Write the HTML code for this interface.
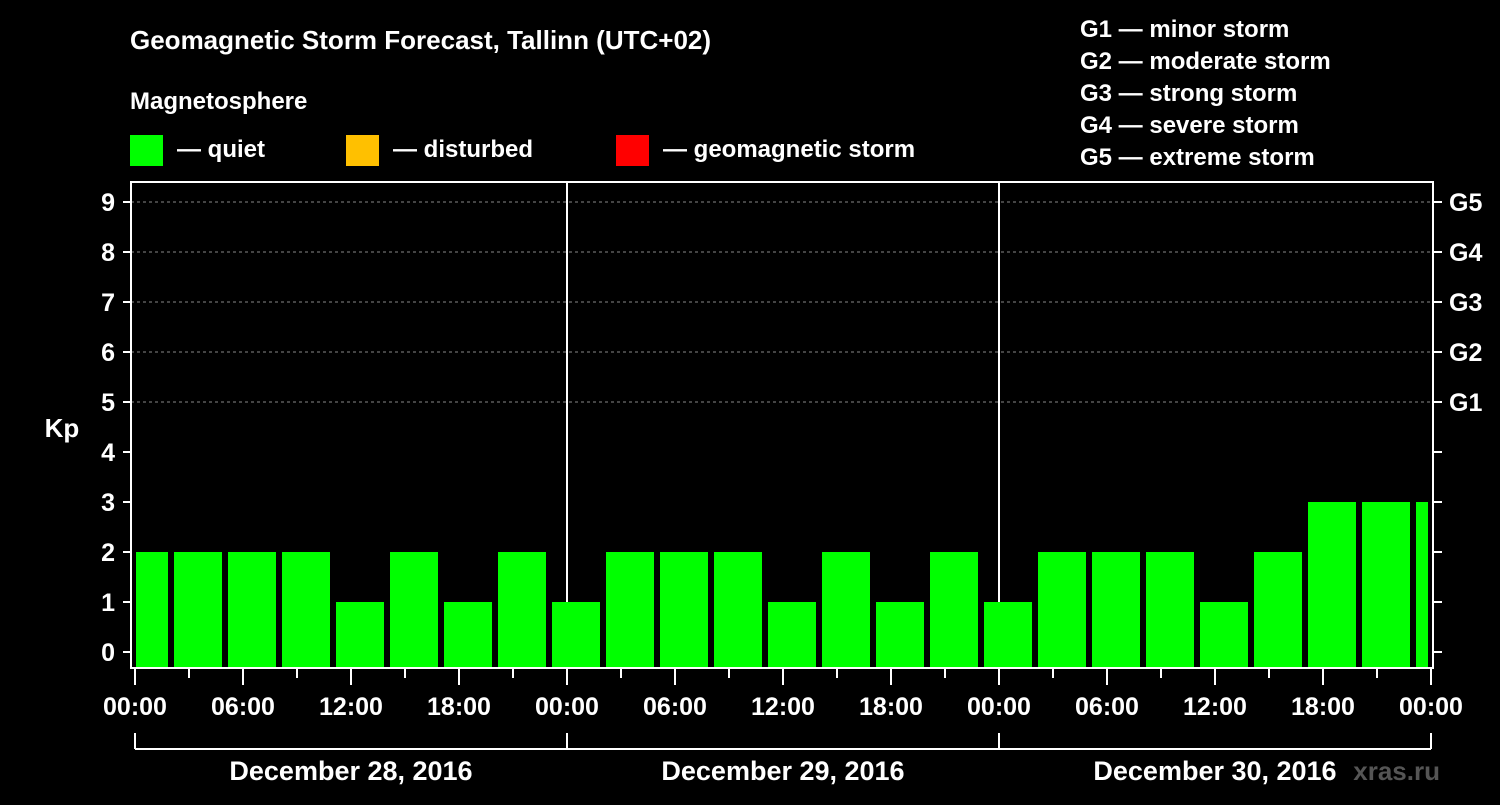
<!DOCTYPE html>
<html><head><meta charset="utf-8"><style>
body{margin:0;background:#000;}
svg text{font-family:"Liberation Sans",Arial,sans-serif;font-weight:bold;fill:#fff;}
</style></head><body>
<svg width="1500" height="800" viewBox="0 0 1500 800" xmlns="http://www.w3.org/2000/svg">
<defs><clipPath id="pc"><rect x="136" y="180" width="1292" height="488"/></clipPath></defs>
<text x="130" y="49" font-size="26">Geomagnetic Storm Forecast, Tallinn (UTC+02)</text>
<text x="130" y="109" font-size="24">Magnetosphere</text>
<g><rect x="130" y="135" width="33" height="31" fill="#00ff00"/><text x="177" y="157" font-size="24">— quiet</text></g>
<g><rect x="346" y="135" width="33" height="31" fill="#ffc000"/><text x="393" y="157" font-size="24">— disturbed</text></g>
<g><rect x="616" y="135" width="33" height="31" fill="#ff0000"/><text x="663" y="157" font-size="24">— geomagnetic storm</text></g>
<g font-size="24">
<text x="1080" y="37">G1 — minor storm</text>
<text x="1080" y="69">G2 — moderate storm</text>
<text x="1080" y="101">G3 — strong storm</text>
<text x="1080" y="133">G4 — severe storm</text>
<text x="1080" y="165">G5 — extreme storm</text>
</g>
<g id="grid"></g>
<g id="bars" clip-path="url(#pc)"></g>
<g id="axes"></g>
<text x="62" y="437" font-size="26" text-anchor="middle">Kp</text>
<text x="1440" y="780" font-size="26" fill="#555" style="fill:#555" text-anchor="end">xras.ru</text>
</svg>
<script>
const days = ["December 28, 2016","December 29, 2016","December 30, 2016"];
const kpValues = [2,2,2,2,1,2,1,2, 1,2,2,2,1,2,1,2, 1,2,2,2,1,2,3,3,3];
const yTicks = [0,1,2,3,4,5,6,7,8,9];
const gLabels = ["G1","G2","G3","G4","G5"];
const hourLabels = ["00:00","06:00","12:00","18:00"];

const NS="http://www.w3.org/2000/svg";
const x0=135, pxPerHour=18, yZero=652, pxPerKp=50, plotTop=182, plotBottom=668, plotLeft=131, plotRight=1433;
const xs=h=>x0+h*pxPerHour;
const ys=v=>yZero-v*pxPerKp;
function mk(tag,attrs,parent){const e=document.createElementNS(NS,tag);for(const k in attrs)e.setAttribute(k,attrs[k]);parent.appendChild(e);return e;}
const grid=document.getElementById('grid'), bars=document.getElementById('bars'), axes=document.getElementById('axes');

yTicks.forEach(v=>{
  if(v>=5){const l=mk('line',{x1:plotLeft,x2:plotRight,y1:ys(v),y2:ys(v),stroke:'#888','stroke-width':1,'stroke-dasharray':'3,3'},grid);
  
  }
});
// day separators
for(let d=1;d<days.length;d++){
  const l=mk('line',{x1:xs(24*d),x2:xs(24*d),y1:plotTop,y2:plotBottom,stroke:'#fff','stroke-width':2},grid);
  
  
}
kpValues.forEach((v,k)=>{
  const c=xs(3*k+0.5);
  const r=mk('rect',{x:c-24,y:ys(v),width:48,height:plotBottom-ys(v)-1,fill:'#00ff00'},bars);
  
  
});
const frame=mk('rect',{x:plotLeft,y:plotTop,width:plotRight-plotLeft,height:plotBottom-plotTop,fill:'none',stroke:'#fff','stroke-width':2},axes);


yTicks.forEach(v=>{
  mk('line',{x1:123,x2:plotLeft,y1:ys(v),y2:ys(v),stroke:'#fff','stroke-width':2},axes);
  mk('line',{x1:plotRight,x2:1442,y1:ys(v),y2:ys(v),stroke:'#fff','stroke-width':2},axes);
  const t=mk('text',{x:115,y:ys(v)+9,'font-size':25,'text-anchor':'end'},axes);
  t.textContent=v;
  
  
  if(v>=5){const g=mk('text',{x:1449,y:ys(v)+9,'font-size':25},axes);
  g.textContent=gLabels[v-5];
  
  }
});
for(let h=0;h<=24*days.length;h+=3){
  const major=h%6===0;
  mk('line',{x1:xs(h),x2:xs(h),y1:plotBottom,y2:major?685:678,stroke:'#fff','stroke-width':2},axes);
  if(major){const t=mk('text',{x:xs(h),y:715,'font-size':25,'text-anchor':'middle'},axes);
  t.textContent=hourLabels[(h%24)/6];
  
  }
}
mk('line',{x1:xs(0),x2:xs(24*days.length),y1:749,y2:749,stroke:'#fff','stroke-width':2},axes);
for(let d=0;d<=days.length;d++) mk('line',{x1:xs(24*d),x2:xs(24*d),y1:733,y2:749,stroke:'#fff','stroke-width':2},axes);
days.forEach((s,d)=>{
  const t=mk('text',{x:xs(24*d+12),y:780,'font-size':27,'text-anchor':'middle'},axes);
  t.textContent=s;
  
  
});
</script>
</body></html>
